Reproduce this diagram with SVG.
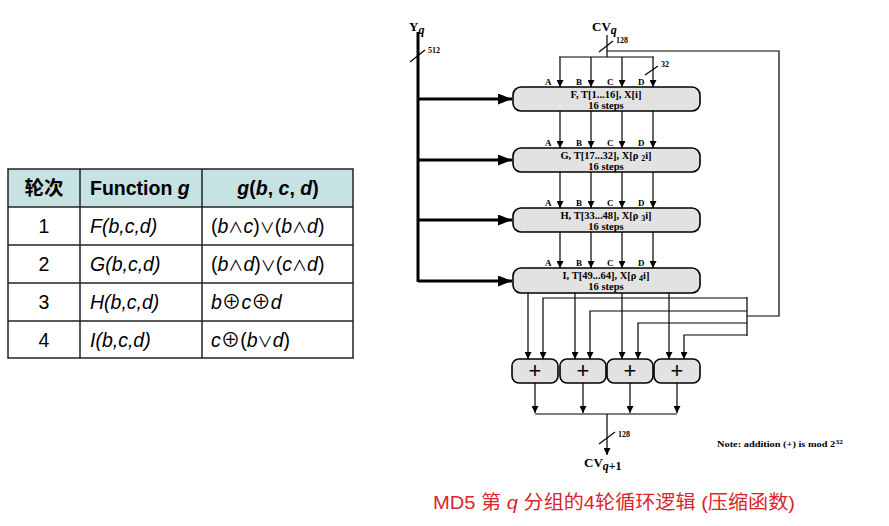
<svg xmlns="http://www.w3.org/2000/svg" width="889" height="526" viewBox="0 0 889 526">
<defs>
<style>
.tb{font-family:"Liberation Sans","Noto Sans CJK SC",sans-serif;font-size:19.5px;fill:#000}
.op{font-size:15px}
.grid{stroke:#222;stroke-width:1.5;fill:none}
.sf{font-family:"Liberation Serif",serif;font-weight:bold;fill:#000}
.box{fill:#e2e2e2;stroke:#000;stroke-width:1.6}
.ln{stroke:#000;stroke-width:1.2;fill:none}
.thick{stroke:#000;stroke-width:3;fill:none}
.lbl{font-size:9px}
.bt{font-size:10.5px;text-anchor:middle}
.num{font-size:8px}
</style>
<marker id="ah" viewBox="0 0 10 10" refX="10" refY="5" markerWidth="7" markerHeight="7" markerUnits="userSpaceOnUse" orient="auto"><path d="M0,0 L10,5 L0,10 z" fill="#000"/></marker>
<marker id="ahb" viewBox="0 0 10 10" refX="10" refY="5" markerWidth="14" markerHeight="11" markerUnits="userSpaceOnUse" orient="auto" preserveAspectRatio="none"><path d="M0,0 L10,5 L0,10 z" fill="#000"/></marker>
</defs>

<!-- Table -->
<g id="table">
<rect x="8" y="169" width="345" height="38" fill="#c6e2e2"/>
<rect x="8" y="169" width="345" height="189" class="grid"/>
<line x1="80" y1="169" x2="80" y2="358" class="grid"/>
<line x1="202" y1="169" x2="202" y2="358" class="grid"/>
<line x1="8" y1="207" x2="353" y2="207" class="grid"/>
<line x1="8" y1="245" x2="353" y2="245" class="grid"/>
<line x1="8" y1="283" x2="353" y2="283" class="grid"/>
<line x1="8" y1="321" x2="353" y2="321" class="grid"/>
<text class="tb" x="44" y="195" text-anchor="middle" font-weight="bold">轮次</text>
<text class="tb" x="90" y="195" font-weight="bold">Function <tspan font-style="italic">g</tspan></text>
<text class="tb" x="278" y="195" text-anchor="middle" font-weight="bold" font-style="italic">g<tspan font-style="normal">(</tspan>b<tspan font-style="normal">, </tspan>c<tspan font-style="normal">, </tspan>d<tspan font-style="normal">)</tspan></text>
<text class="tb" x="44" y="233" text-anchor="middle">1</text>
<text class="tb" x="44" y="271" text-anchor="middle">2</text>
<text class="tb" x="44" y="309" text-anchor="middle">3</text>
<text class="tb" x="44" y="347" text-anchor="middle">4</text>
<text class="tb" x="90" y="233" font-style="italic">F(b,c,d)</text>
<text class="tb" x="90" y="271" font-style="italic">G(b,c,d)</text>
<text class="tb" x="90" y="309" font-style="italic">H(b,c,d)</text>
<text class="tb" x="90" y="347" font-style="italic">I(b,c,d)</text>
<text class="tb" x="211" y="233">(<tspan font-style="italic">b</tspan><tspan class="op">∧</tspan><tspan font-style="italic">c</tspan>)<tspan class="op">∨</tspan>(<tspan font-style="italic">b</tspan><tspan class="op">∧</tspan><tspan font-style="italic">d</tspan>)</text>
<text class="tb" x="211" y="271">(<tspan font-style="italic">b</tspan><tspan class="op">∧</tspan><tspan font-style="italic">d</tspan>)<tspan class="op">∨</tspan>(<tspan font-style="italic">c</tspan><tspan class="op">∧</tspan><tspan font-style="italic">d</tspan>)</text>
<text class="tb" x="211" y="309"><tspan font-style="italic">b</tspan>⊕<tspan font-style="italic">c</tspan>⊕<tspan font-style="italic">d</tspan></text>
<text class="tb" x="211" y="347"><tspan font-style="italic">c</tspan>⊕(<tspan font-style="italic">b</tspan><tspan class="op">∨</tspan><tspan font-style="italic">d</tspan>)</text>
</g>

<!-- Connectors -->
<g id="connectors">
<line x1="418" y1="32" x2="418" y2="282" class="thick"/>
<line x1="410" y1="62" x2="425" y2="50" class="ln" stroke-width="1.4"/>
<line x1="418" y1="99" x2="512" y2="99" class="thick" marker-end="url(#ahb)"/>
<line x1="418" y1="160" x2="512" y2="160" class="thick" marker-end="url(#ahb)"/>
<line x1="418" y1="220" x2="512" y2="220" class="thick" marker-end="url(#ahb)"/>
<line x1="418" y1="281" x2="512" y2="281" class="thick" marker-end="url(#ahb)"/>
<line x1="607" y1="35" x2="607" y2="57" class="ln" stroke-width="1.6"/>
<line x1="599" y1="52" x2="613" y2="41" class="ln"/>
<polyline points="607,51 779,51 779,316 747,316" class="ln" stroke-width="1.8"/>
<line x1="559" y1="57" x2="654" y2="57" class="ln"/>
<line x1="645" y1="75" x2="658" y2="66" class="ln"/>
<line x1="560" y1="57" x2="560" y2="87" class="ln" marker-end="url(#ah)"/>
<line x1="591" y1="57" x2="591" y2="87" class="ln" marker-end="url(#ah)"/>
<line x1="622" y1="57" x2="622" y2="87" class="ln" marker-end="url(#ah)"/>
<line x1="653" y1="57" x2="653" y2="87" class="ln" marker-end="url(#ah)"/>
<line x1="560" y1="111" x2="560" y2="148" class="ln" marker-end="url(#ah)"/>
<line x1="591" y1="111" x2="591" y2="148" class="ln" marker-end="url(#ah)"/>
<line x1="622" y1="111" x2="622" y2="148" class="ln" marker-end="url(#ah)"/>
<line x1="653" y1="111" x2="653" y2="148" class="ln" marker-end="url(#ah)"/>
<line x1="560" y1="172" x2="560" y2="208" class="ln" marker-end="url(#ah)"/>
<line x1="591" y1="172" x2="591" y2="208" class="ln" marker-end="url(#ah)"/>
<line x1="622" y1="172" x2="622" y2="208" class="ln" marker-end="url(#ah)"/>
<line x1="653" y1="172" x2="653" y2="208" class="ln" marker-end="url(#ah)"/>
<line x1="560" y1="232" x2="560" y2="268" class="ln" marker-end="url(#ah)"/>
<line x1="591" y1="232" x2="591" y2="268" class="ln" marker-end="url(#ah)"/>
<line x1="622" y1="232" x2="622" y2="268" class="ln" marker-end="url(#ah)"/>
<line x1="653" y1="232" x2="653" y2="268" class="ln" marker-end="url(#ah)"/>
<line x1="528" y1="293" x2="528" y2="359" class="ln" marker-end="url(#ah)"/>
<line x1="575" y1="293" x2="575" y2="359" class="ln" marker-end="url(#ah)"/>
<line x1="622" y1="293" x2="622" y2="359" class="ln" marker-end="url(#ah)"/>
<line x1="669" y1="293" x2="669" y2="359" class="ln" marker-end="url(#ah)"/>
<line x1="747" y1="297" x2="747" y2="336" class="ln" stroke-width="1.6"/>
<polyline points="747,298 543,298 543,359" class="ln" marker-end="url(#ah)"/>
<polyline points="747,311 590,311 590,359" class="ln" marker-end="url(#ah)"/>
<polyline points="747,323 638,323 638,359" class="ln" marker-end="url(#ah)"/>
<polyline points="747,335 684,335 684,359" class="ln" marker-end="url(#ah)"/>
<line x1="535" y1="383" x2="535" y2="413" class="ln" marker-end="url(#ah)"/>
<line x1="583" y1="383" x2="583" y2="413" class="ln" marker-end="url(#ah)"/>
<line x1="630" y1="383" x2="630" y2="413" class="ln" marker-end="url(#ah)"/>
<line x1="677" y1="383" x2="677" y2="413" class="ln" marker-end="url(#ah)"/>
<line x1="535" y1="414" x2="677" y2="414" class="ln"/>
<line x1="607" y1="414" x2="607" y2="455" class="ln" stroke-width="1.8" marker-end="url(#ah)"/>
<line x1="599" y1="444" x2="615" y2="432" class="ln"/>
</g>

<g id="io-labels">
<text class="sf" x="409" y="31" font-size="13">Y<tspan font-style="italic" font-size="12" dy="3">q</tspan></text>
<text class="sf num" x="428" y="53">512</text>
<text class="sf" x="592" y="31" font-size="13">CV<tspan font-style="italic" font-size="12" dy="3">q</tspan></text>
<text class="sf num" x="616" y="43">128</text>
<text class="sf num" x="661" y="67">32</text>
<text class="sf num" x="618" y="437">128</text>
<text class="sf" x="584" y="467" font-size="13">CV<tspan font-style="italic" font-size="12" dy="3">q</tspan><tspan font-size="12">+1</tspan></text>
<text class="sf" x="717" y="447" font-size="8" textLength="126" lengthAdjust="spacingAndGlyphs">Note:  addition (+) is mod 2<tspan font-size="6" dy="-3">32</tspan></text>
</g>

<g id="round1">
<text class="sf lbl" x="545" y="85">A</text><text class="sf lbl" x="576" y="85">B</text><text class="sf lbl" x="607" y="85">C</text><text class="sf lbl" x="638" y="85">D</text>
<rect class="box" x="513" y="87" width="187" height="24" rx="8"/>
<text class="sf bt" x="606" y="97.5">F, T[1...16], X[i]</text>
<text class="sf bt" x="606" y="108.5">16 steps</text>
</g>
<g id="round2">
<text class="sf lbl" x="545" y="146">A</text><text class="sf lbl" x="576" y="146">B</text><text class="sf lbl" x="607" y="146">C</text><text class="sf lbl" x="638" y="146">D</text>
<rect class="box" x="513" y="148" width="187" height="24" rx="8"/>
<text class="sf bt" x="606" y="158.5">G, T[17...32], X[ρ <tspan font-size="8" dy="2">2</tspan><tspan dy="-2">i]</tspan></text>
<text class="sf bt" x="606" y="169.5">16 steps</text>
</g>
<g id="round3">
<text class="sf lbl" x="545" y="206">A</text><text class="sf lbl" x="576" y="206">B</text><text class="sf lbl" x="607" y="206">C</text><text class="sf lbl" x="638" y="206">D</text>
<rect class="box" x="513" y="208" width="187" height="24" rx="8"/>
<text class="sf bt" x="606" y="218.5">H, T[33...48], X[ρ <tspan font-size="8" dy="2">3</tspan><tspan dy="-2">i]</tspan></text>
<text class="sf bt" x="606" y="229.5">16 steps</text>
</g>
<g id="round4">
<text class="sf lbl" x="545" y="266">A</text><text class="sf lbl" x="576" y="266">B</text><text class="sf lbl" x="607" y="266">C</text><text class="sf lbl" x="638" y="266">D</text>
<rect class="box" x="513" y="268" width="187" height="25" rx="8"/>
<text class="sf bt" x="606" y="278.5">I, T[49...64], X[ρ <tspan font-size="8" dy="2">4</tspan><tspan dy="-2">i]</tspan></text>
<text class="sf bt" x="606" y="289.5">16 steps</text>
</g>

<g id="add1"><rect class="box" x="512" y="359" width="46" height="24" rx="7"/><text x="535" y="378" font-family="Liberation Sans,sans-serif" font-size="22" text-anchor="middle">+</text></g>
<g id="add2"><rect class="box" x="560" y="359" width="46" height="24" rx="7"/><text x="583" y="378" font-family="Liberation Sans,sans-serif" font-size="22" text-anchor="middle">+</text></g>
<g id="add3"><rect class="box" x="607" y="359" width="46" height="24" rx="7"/><text x="630" y="378" font-family="Liberation Sans,sans-serif" font-size="22" text-anchor="middle">+</text></g>
<g id="add4"><rect class="box" x="654" y="359" width="46" height="24" rx="7"/><text x="677" y="378" font-family="Liberation Sans,sans-serif" font-size="22" text-anchor="middle">+</text></g>

<text id="caption" x="433" y="509" font-family="Liberation Sans,Noto Sans CJK SC,sans-serif" font-size="19" fill="#d9262b" textLength="362" lengthAdjust="spacingAndGlyphs">MD5 第 <tspan font-style="italic">q</tspan> 分组的4轮循环逻辑 (压缩函数)</text>
</svg>
